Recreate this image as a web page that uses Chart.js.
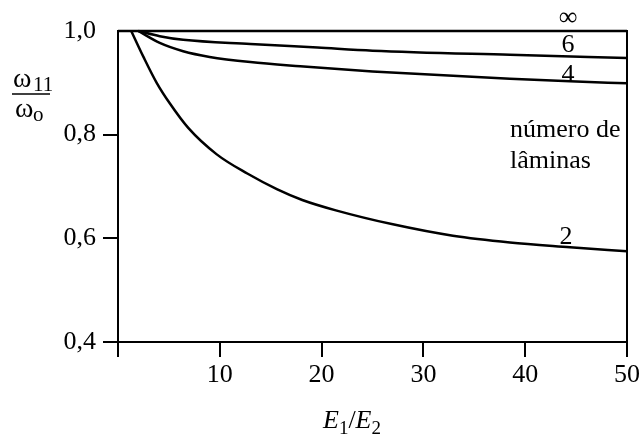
<!DOCTYPE html>
<html>
<head>
<meta charset="utf-8">
<script src="https://cdn.jsdelivr.net/npm/chart.js@4/dist/chart.umd.min.js"></script>
<style>
body { margin: 0; background: #fff; }
#wrap { width: 644px; height: 440px; }
</style>
</head>
<body>
<div id="wrap"><canvas id="myChart" width="644" height="440"></canvas></div>
<script>
// curves (E1/E2 -> w11/wo), one pair per number of laminas
const x2 = [1.3, 2.5, 3.8, 5.1, 6.9, 9.7, 12.7, 15.6, 18.1, 21.4, 27, 32.9, 38.5, 44.4, 50];
const y2 = [1.0, 0.950, 0.900, 0.860, 0.813, 0.762, 0.725, 0.695, 0.674, 0.654, 0.627, 0.605, 0.592, 0.583, 0.575];
const x4 = [2, 4.1, 6.4, 9, 13, 17.9, 25, 38.5, 44.4, 50];
const y4 = [1.0, 0.977, 0.961, 0.950, 0.940, 0.932, 0.922, 0.908, 0.903, 0.899];
const x6 = [2, 4.1, 6.4, 13, 19.6, 25, 38.5, 50];
const y6 = [1.0, 0.990, 0.983, 0.975, 0.968, 0.962, 0.954, 0.948];
const xInf = [0, 50];
const yInf = [1.0, 1.0];

// curve labels: text, x, y (baseline) in data units
const curveLabels = ['∞', '6', '4', '2'];
const labelX = [44.2, 44.2, 44.2, 44.0];
const labelY = [1.0115, 0.959, 0.901, 0.590];

const serif = '"Liberation Serif", "Times New Roman", serif';

function pts(xs, ys) {
  return xs.map((x, i) => ({ x: x, y: ys[i] }));
}

function line(xs, ys) {
  return {
    data: pts(xs, ys),
    showLine: true,
    borderColor: '#000',
    borderWidth: 2.5,
    pointRadius: 0,
    cubicInterpolationMode: 'monotone',
    clip: false
  };
}

const extras = {
  id: 'extras',
  afterDraw(chart) {
    const ctx = chart.ctx;
    const a = chart.chartArea;
    const sx = chart.scales.x;
    const sy = chart.scales.y;
    ctx.save();
    ctx.strokeStyle = '#000';
    ctx.lineWidth = 2;
    ctx.beginPath();
    ctx.moveTo(a.left, a.top);
    ctx.lineTo(a.right, a.top);
    ctx.lineTo(a.right, a.bottom);
    ctx.stroke();

    ctx.fillStyle = '#000';
    ctx.textAlign = 'center';
    ctx.textBaseline = 'alphabetic';
    ctx.font = '26px ' + serif;
    for (let i = 0; i < curveLabels.length; i++) {
      ctx.fillText(curveLabels[i], sx.getPixelForValue(labelX[i]), sy.getPixelForValue(labelY[i]));
    }

    ctx.textAlign = 'left';
    ctx.fillText('número de', 510, 137);
    ctx.fillText('lâminas', 510, 168);

    // y title as a fraction
    ctx.font = '28px ' + serif;
    ctx.fillText('ω', 13, 87);
    ctx.font = '21px ' + serif;
    ctx.fillText('11', 33, 91);
    ctx.font = '28px ' + serif;
    ctx.fillText('ω', 15, 117);
    ctx.font = '21px ' + serif;
    ctx.fillText('o', 33, 121);
    ctx.lineWidth = 1.5;
    ctx.beginPath();
    ctx.moveTo(12, 94);
    ctx.lineTo(50, 94);
    ctx.stroke();

    // x title E1/E2
    let px = 323;
    const parts = [
      ['italic 26px ', 'E', 0],
      ['19px ', '1', 6],
      ['26px ', '/', 0],
      ['italic 26px ', 'E', 0],
      ['19px ', '2', 6]
    ];
    parts.forEach(p => {
      ctx.font = p[0] + serif;
      ctx.fillText(p[1], px, 428 + p[2]);
      px += ctx.measureText(p[1]).width;
    });
    ctx.restore();
  }
};

const config = {
  type: 'scatter',
  data: {
    datasets: [line(xInf, yInf), line(x6, y6), line(x4, y4), line(x2, y2)]
  },
  options: {
    responsive: false,
    animation: false,
    layout: { padding: { top: 31, right: 17, bottom: 0, left: 0 } },
    plugins: { legend: { display: false }, tooltip: { enabled: false } },
    scales: {
      x: {
        type: 'linear',
        min: 0,
        max: 50,
        afterFit(scale) { scale.height = 98; },
        ticks: {
          stepSize: 10,
          color: '#000',
          padding: 3,
          font: { family: serif, size: 26 },
          callback: v => (v === 0 ? '' : v)
        },
        grid: {
          drawOnChartArea: false,
          tickLength: 15,
          color: '#000',
          lineWidth: 2
        },
        border: { color: '#000', width: 2 }
      },
      y: {
        min: 0.4,
        max: 1.0,
        afterFit(scale) { scale.width = 118; },
        ticks: {
          stepSize: 0.2,
          color: '#000',
          padding: 7,
          font: { family: serif, size: 26 },
          callback: v => v.toFixed(1).replace('.', ',')
        },
        grid: {
          drawOnChartArea: false,
          tickLength: 15,
          lineWidth: 2,
          color: c => (c.tick && Math.abs(c.tick.value - 1) < 1e-6 ? 'rgba(0,0,0,0)' : '#000')
        },
        border: { color: '#000', width: 2 }
      }
    }
  },
  plugins: [extras]
};

const myChart = new Chart(document.getElementById('myChart'), config);
</script>
</body>
</html>
